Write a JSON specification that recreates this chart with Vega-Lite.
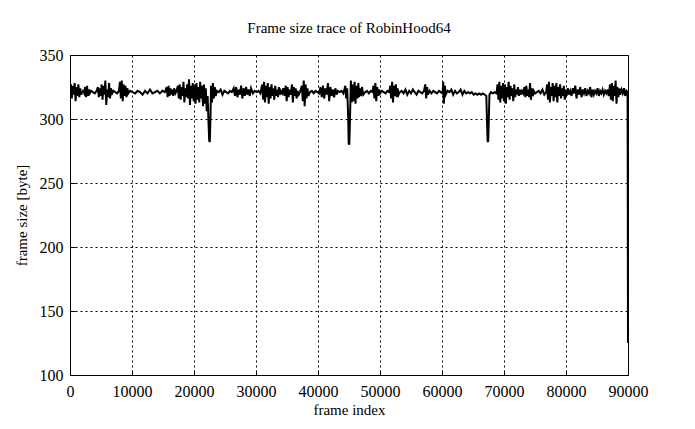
{
  "$schema": "https://vega.github.io/schema/vega-lite/v6.json",
  "width": 558,
  "height": 320,
  "autosize": {"type": "none"},
  "padding": {"left": 70, "top": 55, "right": 67, "bottom": 54},
  "background": "white",
  "title": {"text": "Frame size trace of RobinHood64", "font": "Liberation Serif", "fontSize": 15, "fontWeight": "normal", "color": "black", "offset": 11},
  "config": {
    "view": {"stroke": "black", "strokeWidth": 1},
    "axis": {
      "labelFont": "Liberation Serif", "labelFontSize": 16, "labelColor": "black",
      "titleFont": "Liberation Serif", "titleFontSize": 15, "titleFontWeight": "normal", "titleColor": "black",
      "domainColor": "black", "tickColor": "black", "tickSize": -5,
      "grid": true, "gridColor": "black", "gridDash": [2, 3], "gridWidth": 1, "gridOpacity": 1
    }
  },
  "data": {"values": [
    {"frame":0,"size":322},{"frame":150,"size":327},{"frame":300,"size":316},{"frame":450,"size":326},{"frame":600,"size":319},{"frame":750,"size":328},{"frame":900,"size":314},{"frame":1050,"size":325},{"frame":1200,"size":318},{"frame":1350,"size":327},{"frame":1500,"size":317},{"frame":1650,"size":324},{"frame":1800,"size":319},{"frame":1950,"size":321},
    {"frame":2100,"size":322},{"frame":2300,"size":320},
    {"frame":2450,"size":325},{"frame":2600,"size":317},{"frame":2750,"size":326},{"frame":2900,"size":318},{"frame":3050,"size":323},{"frame":3200,"size":320},
    {"frame":3400,"size":322},{"frame":3700,"size":321},{"frame":4000,"size":320},{"frame":4300,"size":322},
    {"frame":4500,"size":325},{"frame":4650,"size":317},{"frame":4800,"size":324},{"frame":4950,"size":318},{"frame":5100,"size":327},{"frame":5250,"size":315},{"frame":5400,"size":326},{"frame":5550,"size":319},{"frame":5700,"size":330},{"frame":5850,"size":311},{"frame":6000,"size":323},{"frame":6150,"size":317},{"frame":6300,"size":328},{"frame":6450,"size":316},{"frame":6600,"size":324},{"frame":6800,"size":320},
    {"frame":7000,"size":322},{"frame":7300,"size":321},{"frame":7600,"size":320},{"frame":7900,"size":322},
    {"frame":8050,"size":329},{"frame":8200,"size":316},{"frame":8350,"size":330},{"frame":8500,"size":314},{"frame":8650,"size":327},{"frame":8800,"size":318},{"frame":8950,"size":326},{"frame":9100,"size":317},{"frame":9250,"size":324},{"frame":9400,"size":320},
    {"frame":9700,"size":322},{"frame":10100,"size":321},{"frame":10500,"size":320},{"frame":10900,"size":322},{"frame":11300,"size":321},{"frame":11700,"size":319},{"frame":12100,"size":322},{"frame":12500,"size":320},{"frame":12900,"size":323},{"frame":13300,"size":320},{"frame":13700,"size":321},{"frame":14100,"size":322},{"frame":14500,"size":320},{"frame":14900,"size":322},{"frame":15300,"size":321},
    {"frame":15600,"size":325},{"frame":15750,"size":317},{"frame":15900,"size":326},{"frame":16050,"size":318},{"frame":16200,"size":324},{"frame":16350,"size":319},{"frame":16500,"size":323},{"frame":16650,"size":318},{"frame":16800,"size":324},{"frame":17000,"size":320},
    {"frame":17200,"size":322},
    {"frame":17400,"size":326},{"frame":17550,"size":316},{"frame":17700,"size":327},{"frame":17850,"size":315},{"frame":18000,"size":325},{"frame":18150,"size":318},{"frame":18300,"size":329},{"frame":18450,"size":313},{"frame":18600,"size":324},{"frame":18750,"size":317},{"frame":18900,"size":327},{"frame":19050,"size":316},{"frame":19200,"size":331},{"frame":19350,"size":311},{"frame":19500,"size":326},{"frame":19650,"size":316},{"frame":19800,"size":328},{"frame":19950,"size":314},{"frame":20100,"size":327},{"frame":20250,"size":312},{"frame":20400,"size":328},{"frame":20550,"size":315},{"frame":20700,"size":325},{"frame":20850,"size":313},{"frame":21000,"size":329},{"frame":21150,"size":316},{"frame":21300,"size":326},{"frame":21450,"size":310},{"frame":21600,"size":327},{"frame":21750,"size":312},{"frame":21900,"size":324},{"frame":22050,"size":306},{"frame":22200,"size":318},{"frame":22350,"size":296},{"frame":22450,"size":283},{"frame":22550,"size":282},{"frame":22650,"size":300},{"frame":22750,"size":326},{"frame":22900,"size":313},{"frame":23050,"size":328},{"frame":23200,"size":316},{"frame":23350,"size":325},{"frame":23500,"size":318},{"frame":23700,"size":322},
    {"frame":24000,"size":321},{"frame":24300,"size":323},{"frame":24600,"size":319},{"frame":24900,"size":322},{"frame":25200,"size":321},{"frame":25500,"size":320},{"frame":25800,"size":322},{"frame":26100,"size":321},
    {"frame":26400,"size":324},{"frame":26600,"size":318},{"frame":26800,"size":325},{"frame":27000,"size":317},{"frame":27200,"size":323},{"frame":27400,"size":319},{"frame":27600,"size":326},{"frame":27800,"size":316},{"frame":28000,"size":324},{"frame":28200,"size":318},{"frame":28400,"size":325},{"frame":28600,"size":319},{"frame":28800,"size":323},{"frame":29000,"size":318},{"frame":29200,"size":324},{"frame":29500,"size":320},
    {"frame":29800,"size":322},{"frame":30100,"size":321},{"frame":30400,"size":322},{"frame":30700,"size":320},
    {"frame":31000,"size":327},{"frame":31150,"size":315},{"frame":31300,"size":329},{"frame":31450,"size":313},{"frame":31600,"size":326},{"frame":31750,"size":317},{"frame":31900,"size":328},{"frame":32050,"size":312},{"frame":32200,"size":325},{"frame":32350,"size":316},{"frame":32500,"size":327},{"frame":32650,"size":318},{"frame":32800,"size":324},{"frame":32950,"size":315},{"frame":33100,"size":326},{"frame":33250,"size":318},{"frame":33400,"size":323},{"frame":33550,"size":317},{"frame":33700,"size":325},{"frame":33850,"size":319},{"frame":34000,"size":322},{"frame":34200,"size":320},{"frame":34400,"size":324},{"frame":34600,"size":318},{"frame":34800,"size":326},{"frame":34950,"size":314},{"frame":35100,"size":325},{"frame":35250,"size":317},{"frame":35400,"size":323},{"frame":35600,"size":319},{"frame":35800,"size":327},{"frame":35950,"size":313},{"frame":36100,"size":325},{"frame":36250,"size":318},{"frame":36400,"size":324},{"frame":36550,"size":316},{"frame":36700,"size":322},{"frame":36900,"size":319},{"frame":37100,"size":321},
    {"frame":37400,"size":326},{"frame":37550,"size":314},{"frame":37700,"size":330},{"frame":37850,"size":310},{"frame":38000,"size":327},{"frame":38150,"size":316},{"frame":38300,"size":324},{"frame":38450,"size":318},{"frame":38700,"size":321},
    {"frame":39000,"size":322},{"frame":39300,"size":320},{"frame":39600,"size":322},{"frame":39900,"size":321},{"frame":40200,"size":320},
    {"frame":40400,"size":325},{"frame":40600,"size":317},{"frame":40800,"size":326},{"frame":41000,"size":316},{"frame":41200,"size":324},{"frame":41400,"size":319},{"frame":41600,"size":328},{"frame":41800,"size":314},{"frame":42000,"size":325},{"frame":42200,"size":318},{"frame":42400,"size":323},{"frame":42600,"size":317},{"frame":42800,"size":324},{"frame":43000,"size":319},{"frame":43200,"size":322},{"frame":43500,"size":321},
    {"frame":43800,"size":322},{"frame":44100,"size":320},
    {"frame":44400,"size":326},{"frame":44550,"size":316},{"frame":44700,"size":324},{"frame":44850,"size":305},{"frame":44950,"size":281},{"frame":45050,"size":280},{"frame":45150,"size":298},{"frame":45300,"size":330},{"frame":45450,"size":313},{"frame":45600,"size":327},{"frame":45750,"size":314},{"frame":45900,"size":329},{"frame":46050,"size":312},{"frame":46200,"size":326},{"frame":46350,"size":316},{"frame":46500,"size":328},{"frame":46650,"size":317},{"frame":46800,"size":324},{"frame":46950,"size":318},{"frame":47100,"size":325},{"frame":47300,"size":319},{"frame":47600,"size":321},
    {"frame":47900,"size":322},{"frame":48200,"size":320},{"frame":48500,"size":322},{"frame":48800,"size":321},
    {"frame":48950,"size":326},{"frame":49100,"size":316},{"frame":49250,"size":328},{"frame":49400,"size":314},{"frame":49550,"size":325},{"frame":49700,"size":318},{"frame":49850,"size":323},{"frame":50000,"size":320},
    {"frame":50300,"size":322},{"frame":50600,"size":321},{"frame":50900,"size":320},{"frame":51200,"size":322},{"frame":51500,"size":321},
    {"frame":51650,"size":326},{"frame":51800,"size":316},{"frame":51950,"size":329},{"frame":52100,"size":313},{"frame":52250,"size":326},{"frame":52400,"size":318},{"frame":52550,"size":327},{"frame":52700,"size":317},{"frame":52850,"size":324},{"frame":53000,"size":319},{"frame":53200,"size":321},
    {"frame":53500,"size":322},{"frame":53800,"size":320},{"frame":54100,"size":323},{"frame":54400,"size":319},{"frame":54700,"size":322},{"frame":55000,"size":320},{"frame":55300,"size":323},{"frame":55600,"size":321},{"frame":55900,"size":319},{"frame":56200,"size":322},{"frame":56500,"size":321},{"frame":56800,"size":320},{"frame":57100,"size":322},
    {"frame":57300,"size":327},{"frame":57450,"size":316},{"frame":57600,"size":325},{"frame":57750,"size":319},
    {"frame":58000,"size":322},{"frame":58300,"size":320},{"frame":58600,"size":322},{"frame":58900,"size":321},{"frame":59200,"size":320},{"frame":59500,"size":322},{"frame":59800,"size":321},{"frame":60100,"size":320},
    {"frame":60200,"size":329},{"frame":60300,"size":312},{"frame":60450,"size":326},{"frame":60600,"size":319},
    {"frame":60900,"size":322},{"frame":61200,"size":321},{"frame":61500,"size":323},{"frame":61800,"size":319},{"frame":62100,"size":322},{"frame":62400,"size":320},{"frame":62700,"size":321},{"frame":63000,"size":323},{"frame":63300,"size":319},{"frame":63600,"size":322},{"frame":63900,"size":320},{"frame":64200,"size":321},{"frame":64500,"size":320},{"frame":64800,"size":321},{"frame":65100,"size":319},{"frame":65400,"size":320},{"frame":65700,"size":319},{"frame":66000,"size":320},{"frame":66300,"size":319},{"frame":66600,"size":320},{"frame":66900,"size":319},{"frame":67150,"size":318},{"frame":67250,"size":300},{"frame":67350,"size":283},{"frame":67450,"size":282},{"frame":67550,"size":300},{"frame":67650,"size":319},
    {"frame":67900,"size":321},{"frame":68200,"size":320},{"frame":68500,"size":321},{"frame":68800,"size":320},
    {"frame":68950,"size":327},{"frame":69100,"size":315},{"frame":69250,"size":329},{"frame":69400,"size":313},{"frame":69550,"size":326},{"frame":69700,"size":316},{"frame":69850,"size":328},{"frame":70000,"size":314},{"frame":70150,"size":327},{"frame":70300,"size":312},{"frame":70450,"size":325},{"frame":70600,"size":317},{"frame":70750,"size":329},{"frame":70900,"size":315},{"frame":71050,"size":326},{"frame":71200,"size":318},{"frame":71350,"size":324},{"frame":71500,"size":314},{"frame":71650,"size":327},{"frame":71800,"size":317},{"frame":71950,"size":323},{"frame":72100,"size":319},{"frame":72250,"size":325},{"frame":72400,"size":318},{"frame":72550,"size":323},{"frame":72700,"size":319},{"frame":72900,"size":322},{"frame":73100,"size":320},{"frame":73300,"size":325},{"frame":73450,"size":317},{"frame":73600,"size":326},{"frame":73750,"size":318},{"frame":73900,"size":323},{"frame":74050,"size":317},{"frame":74200,"size":328},{"frame":74350,"size":315},{"frame":74500,"size":324},{"frame":74650,"size":318},{"frame":74800,"size":322},{"frame":75000,"size":320},{"frame":75300,"size":321},
    {"frame":75600,"size":322},{"frame":75900,"size":320},{"frame":76200,"size":323},{"frame":76500,"size":319},{"frame":76800,"size":321},
    {"frame":76950,"size":327},{"frame":77100,"size":315},{"frame":77250,"size":329},{"frame":77400,"size":313},{"frame":77550,"size":325},{"frame":77700,"size":318},{"frame":77850,"size":328},{"frame":78000,"size":314},{"frame":78150,"size":326},{"frame":78300,"size":317},{"frame":78450,"size":328},{"frame":78600,"size":313},{"frame":78750,"size":325},{"frame":78900,"size":318},{"frame":79050,"size":327},{"frame":79200,"size":316},{"frame":79350,"size":324},{"frame":79500,"size":318},{"frame":79650,"size":326},{"frame":79800,"size":315},{"frame":79950,"size":323},{"frame":80100,"size":318},{"frame":80300,"size":324},{"frame":80500,"size":319},
    {"frame":80700,"size":322},{"frame":80900,"size":318},{"frame":81100,"size":324},{"frame":81300,"size":320},{"frame":81500,"size":326},{"frame":81700,"size":316},{"frame":81900,"size":323},{"frame":82100,"size":319},{"frame":82300,"size":325},{"frame":82500,"size":317},{"frame":82700,"size":323},{"frame":82900,"size":320},{"frame":83100,"size":324},{"frame":83300,"size":318},{"frame":83500,"size":322},{"frame":83700,"size":320},{"frame":83900,"size":325},{"frame":84100,"size":317},{"frame":84300,"size":323},{"frame":84500,"size":319},{"frame":84700,"size":322},{"frame":84900,"size":320},{"frame":85100,"size":324},{"frame":85300,"size":318},{"frame":85500,"size":322},{"frame":85700,"size":320},{"frame":85900,"size":323},{"frame":86100,"size":319},{"frame":86300,"size":322},{"frame":86500,"size":320},{"frame":86700,"size":323},{"frame":86900,"size":318},
    {"frame":87100,"size":327},{"frame":87250,"size":315},{"frame":87400,"size":328},{"frame":87550,"size":314},{"frame":87700,"size":326},{"frame":87850,"size":318},{"frame":88000,"size":330},{"frame":88150,"size":312},{"frame":88300,"size":325},{"frame":88450,"size":317},{"frame":88600,"size":324},{"frame":88750,"size":319},
    {"frame":88950,"size":323},{"frame":89150,"size":320},{"frame":89350,"size":324},{"frame":89550,"size":318},{"frame":89750,"size":322},{"frame":89900,"size":321},{"frame":89930,"size":321},{"frame":89960,"size":254},{"frame":89980,"size":177},{"frame":90000,"size":125}
  ]},
  "mark": {"type": "line", "color": "black", "strokeWidth": 2, "clip": true},
  "encoding": {
    "x": {"field": "frame", "type": "quantitative", "title": "frame index",
      "scale": {"domain": [0, 90000], "nice": false, "zero": false},
      "axis": {"values": [0,10000,20000,30000,40000,50000,60000,70000,80000,90000], "format": "d", "labelPadding": 13, "titlePadding": 3, "labelFlush": false}},
    "y": {"field": "size", "type": "quantitative", "title": "frame size [byte]",
      "scale": {"domain": [100, 350], "nice": false, "zero": false},
      "axis": {"values": [100,150,200,250,300,350], "labelPadding": 12, "titlePadding": 10, "labelFlush": false}}
  }
}
